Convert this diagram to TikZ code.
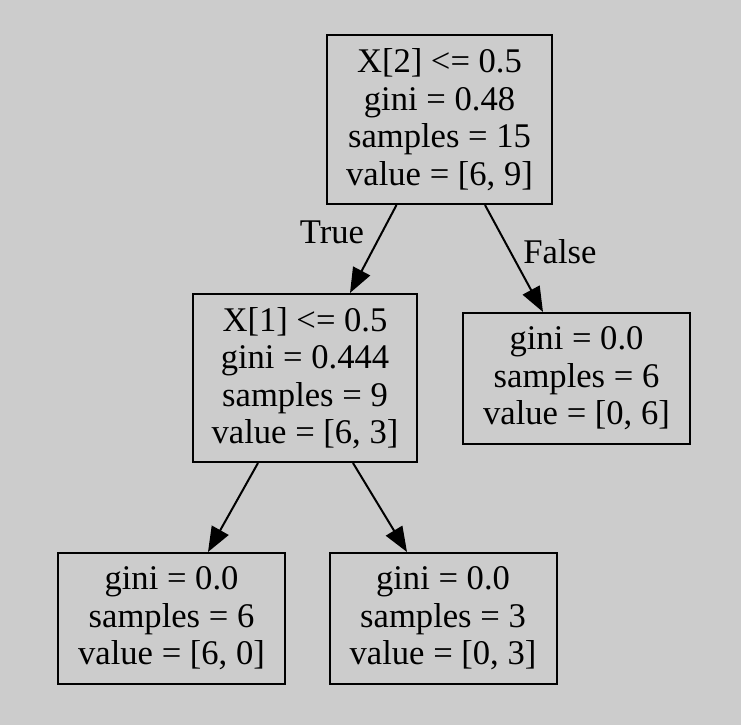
\documentclass[tikz,border=0pt]{standalone}
\usepackage{fontspec}
\setmainfont{Liberation Serif}
\usetikzlibrary{arrows.meta,calc}
\definecolor{bggray}{RGB}{204,204,204}
\tikzset{
  treebox/.style={draw=black, line width=2pt, rectangle, inner sep=0pt, align=center,
    font=\fontsize{34.6}{37.5}\selectfont},
  treeedge/.style={draw=black, line width=2pt, -{Triangle[length=25pt,width=19pt]}},
  edgelabel/.style={anchor=base, inner sep=0pt, font=\fontsize{34.6}{37.5}\selectfont}
}
\begin{document}
\begin{tikzpicture}[x=1pt,y=-1pt]
\fill[bggray] (0,0) rectangle (741,725);
\useasboundingbox (0,0) rectangle (741,725);
\node[treebox, minimum width=225pt, minimum height=169pt] (root) at (439.5,119.5)
  {X[2] <= 0.5\\gini = 0.48\\samples = 15\\value = [6, 9]};
\node[treebox, minimum width=224pt, minimum height=168pt] (left) at (305,378)
  {X[1] <= 0.5\\gini = 0.444\\samples = 9\\value = [6, 3]};
\node[treebox, minimum width=227pt, minimum height=131pt] (right) at (576.5,378.5)
  {gini = 0.0\\samples = 6\\value = [0, 6]};
\node[treebox, minimum width=227pt, minimum height=131pt] (bl) at (171.5,618.5)
  {gini = 0.0\\samples = 6\\value = [6, 0]};
\node[treebox, minimum width=227pt, minimum height=131pt] (br) at (443,618.5)
  {gini = 0.0\\samples = 3\\value = [0, 3]};
\draw[treeedge] ($(root.south)+(-43,0)$) -- ($(left.north)+(45,0)$);
\draw[treeedge] ($(root.south)+(45.5,0)$) -- ($(right.north)+(-33.5,0)$);
\draw[treeedge] ($(left.south)+(-47,0)$) -- ($(bl.north)+(36.5,0)$);
\draw[treeedge] ($(left.south)+(48,0)$) -- ($(br.north)+(-36,0)$);
\node[edgelabel] (truelbl) at (332,243) {True};
\node[edgelabel] (falselbl) at (560,263) {False};
\end{tikzpicture}
\end{document}
